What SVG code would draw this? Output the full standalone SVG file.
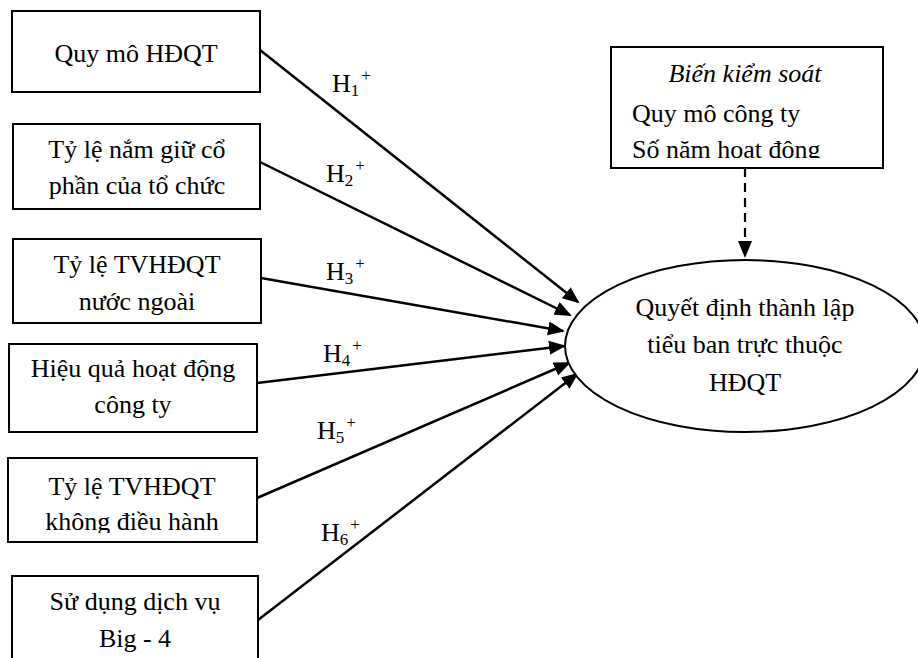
<svg xmlns="http://www.w3.org/2000/svg" width="918" height="658" viewBox="0 0 918 658">
<style>
.box{fill:#fff;stroke:#000;stroke-width:2}
.t{font-family:"Liberation Serif","Times New Roman",serif;font-size:26px;fill:#000}
.c{text-anchor:middle}
.lbl{font-family:"Liberation Serif","Times New Roman",serif;font-size:26px;fill:#000}
.s{font-size:17px}
.ln{stroke:#000;stroke-width:2.5;fill:none}
</style>
<defs>
<marker id="ah" markerUnits="userSpaceOnUse" markerWidth="20" markerHeight="16" refX="15" refY="7" orient="auto">
<path d="M0,0 L17,7 L0,14 Z" fill="#000"/>
</marker>
<clipPath id="c2"><rect x="13" y="124" width="247" height="75"/></clipPath>
<clipPath id="c3"><rect x="13" y="239" width="248" height="76"/></clipPath>
<clipPath id="c5"><rect x="8" y="458" width="249" height="75"/></clipPath>
<clipPath id="c6"><rect x="12" y="576" width="246" height="79"/></clipPath>
<clipPath id="cc"><rect x="611" y="47" width="272" height="111"/></clipPath>
</defs>
<g id="connectors">
<line class="ln" x1="260" y1="50" x2="578" y2="302" marker-end="url(#ah)"/>
<line class="ln" x1="260" y1="162" x2="570" y2="315" marker-end="url(#ah)"/>
<line class="ln" x1="261" y1="278" x2="563" y2="331" marker-end="url(#ah)"/>
<line class="ln" x1="257" y1="383" x2="564" y2="346" marker-end="url(#ah)"/>
<line class="ln" x1="257" y1="498" x2="569" y2="363" marker-end="url(#ah)"/>
<line class="ln" x1="258" y1="620" x2="577" y2="374" marker-end="url(#ah)"/>
<line x1="745" y1="168" x2="745" y2="256" stroke="#000" stroke-width="2.2" stroke-dasharray="9 6" marker-end="url(#ah)"/>
<text class="lbl" x="332" y="92">H<tspan class="s" dy="4">1</tspan><tspan class="s" dx="2" dy="-15">+</tspan></text>
<text class="lbl" x="326" y="182">H<tspan class="s" dy="4">2</tspan><tspan class="s" dx="2" dy="-15">+</tspan></text>
<text class="lbl" x="326" y="280">H<tspan class="s" dy="4">3</tspan><tspan class="s" dx="2" dy="-15">+</tspan></text>
<text class="lbl" x="323" y="362">H<tspan class="s" dy="4">4</tspan><tspan class="s" dx="2" dy="-15">+</tspan></text>
<text class="lbl" x="317" y="439">H<tspan class="s" dy="4">5</tspan><tspan class="s" dx="2" dy="-15">+</tspan></text>
<text class="lbl" x="321" y="541">H<tspan class="s" dy="4">6</tspan><tspan class="s" dx="2" dy="-15">+</tspan></text>
</g>
<g id="n1">
<rect class="box" x="12" y="11" width="248" height="81"/>
<text class="t c" x="136" y="62">Quy mô HĐQT</text>
</g>
<g id="n2">
<rect class="box" x="13" y="124" width="247" height="85"/>
<g clip-path="url(#c2)">
<text class="t c" x="137" y="158">Tỷ lệ nắm giữ cổ</text>
<text class="t c" x="137" y="194">phần của tổ chức</text>
</g>
</g>
<g id="n3">
<rect class="box" x="13" y="239" width="248" height="84"/>
<g clip-path="url(#c3)">
<text class="t c" x="137" y="273">Tỷ lệ TVHĐQT</text>
<text class="t c" x="137" y="310">nước ngoài</text>
</g>
</g>
<g id="n4">
<rect class="box" x="9" y="344" width="248" height="88"/>
<text class="t c" x="133" y="377">Hiệu quả hoạt động</text>
<text class="t c" x="133" y="413">công ty</text>
</g>
<g id="n5">
<rect class="box" x="8" y="458" width="249" height="84"/>
<g clip-path="url(#c5)">
<text class="t c" x="132" y="495">Tỷ lệ TVHĐQT</text>
<text class="t c" x="132" y="530">không điều hành</text>
</g>
</g>
<g id="n6">
<rect class="box" x="12" y="576" width="246" height="110"/>
<g clip-path="url(#c6)">
<text class="t c" x="135" y="610">Sử dụng dịch vụ</text>
<text class="t c" x="135" y="647">Big - 4</text>
</g>
</g>
<g id="control">
<rect class="box" x="611" y="47" width="272" height="121"/>
<g clip-path="url(#cc)">
<text class="t c" x="745" y="82" font-style="italic">Biến kiểm soát</text>
<text class="t" x="632" y="122">Quy mô công ty</text>
<text class="t" x="632" y="158">Số năm hoạt động</text>
</g>
</g>
<g id="outcome">
<ellipse cx="745" cy="346" rx="180" ry="86" fill="#fff" stroke="#000" stroke-width="2"/>
<text class="t c" x="745" y="316">Quyết định thành lập</text>
<text class="t c" x="745" y="353">tiểu ban trực thuộc</text>
<text class="t c" x="745" y="391">HĐQT</text>
</g>
</svg>
